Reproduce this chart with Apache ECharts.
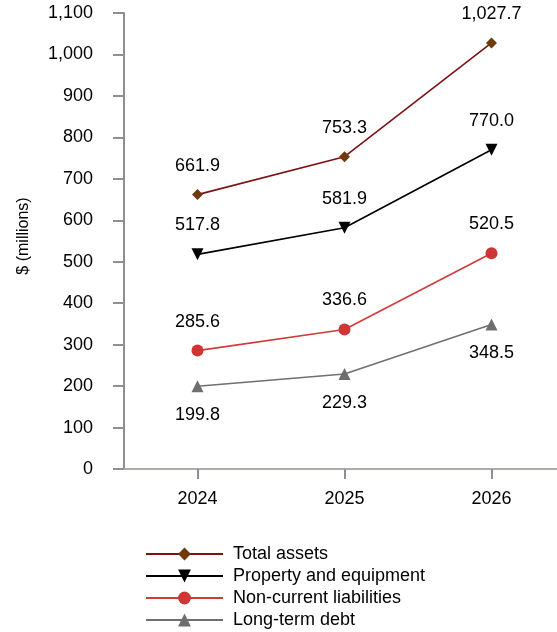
<!DOCTYPE html>
<html>
<head>
<meta charset="utf-8">
<script src="https://cdn.jsdelivr.net/npm/echarts@6/dist/echarts.min.js"></script>
<style>
  html, body { margin: 0; padding: 0; background: #ffffff; }
  #chart { width: 557px; height: 632px; }
</style>
</head>
<body>
<div id="chart"></div>
<script>
// Balance sheet items, $ millions
var years = ['2024', '2025', '2026'];
var totalAssets = [661.9, 753.3, 1027.7];
var propertyEquipment = [517.8, 581.9, 770.0];
var nonCurrentLiabilities = [285.6, 336.6, 520.5];
var longTermDebt = [199.8, 229.3, 348.5];
var yTicks = { min: 0, max: 1100, step: 100 };

var FONT = '"Liberation Sans", Arial, Helvetica, sans-serif';

function fmtThousands(v) {
  return String(v).replace(/\B(?=(\d{3})+(?!\d))/g, ',');
}
function fmtValue(v) {
  var parts = v.toFixed(1).split('.');
  return fmtThousands(parts[0]) + '.' + parts[1];
}

function makeSeries(name, data, lineColor, markColor, symbol, rotate, labelPos) {
  return {
    name: name,
    type: 'line',
    data: data,
    symbol: symbol,
    symbolSize: symbol === 'diamond' ? 11 : 12,
    symbolRotate: rotate,
    lineStyle: { color: lineColor, width: 1.6 },
    itemStyle: { color: markColor },
    label: {
      show: true,
      position: labelPos,
      distance: 14,
      color: '#000000',
      fontFamily: FONT,
      fontSize: 18,
      formatter: function (p) { return fmtValue(p.value); }
    },
    emphasis: { disabled: true },
    animation: false
  };
}

var chart = echarts.init(document.getElementById('chart'), null, { renderer: 'canvas' });
chart.setOption({
  backgroundColor: '#ffffff',
  animation: false,
  grid: { left: 124, top: 13, width: 441, height: 456, containLabel: false, outerBoundsMode: 'none' },
  xAxis: {
    type: 'category',
    data: years,
    boundaryGap: true,
    axisLine: { show: true, lineStyle: { color: '#b3aaaa', width: 2 } },
    axisTick: { show: true, alignWithLabel: true, length: 10, lineStyle: { color: '#8f8f8f', width: 2 } },
    axisLabel: { color: '#000000', fontFamily: FONT, fontSize: 18, margin: 21 },
    splitLine: { show: false }
  },
  yAxis: {
    type: 'value',
    min: yTicks.min,
    max: yTicks.max,
    interval: yTicks.step,
    name: '$ (millions)',
    nameLocation: 'middle',
    nameGap: 92,
    nameRotate: 90,
    nameTextStyle: { color: '#000000', fontFamily: FONT, fontSize: 16, padding: [0, 0, 0, 10] },
    axisLine: { show: true, lineStyle: { color: '#8f8f8f', width: 2 } },
    axisTick: { show: true, length: 11, lineStyle: { color: '#8f8f8f', width: 2 } },
    axisLabel: {
      color: '#000000', fontFamily: FONT, fontSize: 18, margin: 31,
      formatter: function (v) { return fmtThousands(v); }
    },
    splitLine: { show: false }
  },
  legend: {
    orient: 'vertical',
    left: 145,
    top: 544,
    padding: 0,
    itemWidth: 77,
    itemHeight: 16,
    itemGap: 2,
    textStyle: { color: '#000000', fontFamily: FONT, fontSize: 18, lineHeight: 20, padding: [0, 0, 0, 5] },
    data: ['Total assets', 'Property and equipment', 'Non-current liabilities', 'Long-term debt']
  },
  series: [
    makeSeries('Total assets', totalAssets, '#7d1212', '#6e3a0c', 'diamond', 0, 'top'),
    makeSeries('Property and equipment', propertyEquipment, '#000000', '#000000', 'triangle', 180, 'top'),
    makeSeries('Non-current liabilities', nonCurrentLiabilities, '#d43a3a', '#cf3535', 'circle', 0, 'top'),
    makeSeries('Long-term debt', longTermDebt, '#707070', '#6e6e6e', 'triangle', 0, 'bottom')
  ]
});
</script>
</body>
</html>
